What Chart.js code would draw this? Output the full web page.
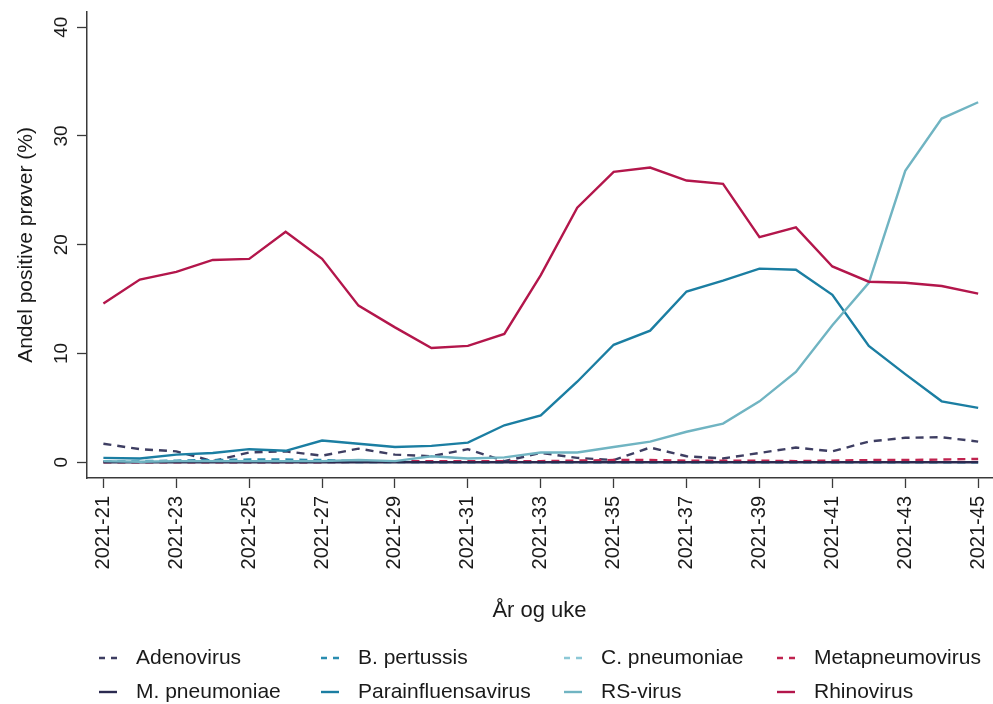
<!DOCTYPE html>
<html>
<head>
<meta charset="utf-8">
<script src="https://cdn.jsdelivr.net/npm/chart.js@4"></script>
<style>
  html, body { margin: 0; padding: 0; background: #ffffff; }
  #wrap { width: 993px; height: 704px; }
</style>
</head>
<body>
<div id="wrap"><canvas id="c" width="993" height="704"></canvas></div>
<script>
// Uke (2021) og andel positive prøver per agens
const weeks = [21, 22, 23, 24, 25, 26, 27, 28, 29, 30, 31, 32, 33, 34, 35, 36, 37, 38, 39, 40, 41, 42, 43, 44, 45];
const weekTicks = [21, 23, 25, 27, 29, 31, 33, 35, 37, 39, 41, 43, 45];
const yTicks = [0, 10, 20, 30, 40];

const adenovirus      = [1.7, 1.2, 1.0, 0.1, 0.9, 1.0, 0.6, 1.25, 0.7, 0.55, 1.2, 0.1, 0.85, 0.4, 0.2, 1.35, 0.55, 0.35, 0.85, 1.35, 1.0, 1.9, 2.25, 2.3, 1.9];
const bPertussis      = [0.1, 0.1, 0.15, 0.2, 0.25, 0.25, 0.2, 0.1, 0.05, 0, 0, 0, 0, 0, 0, 0, 0, 0, 0, 0, 0, 0, 0, 0, 0];
const cPneumoniae     = [0.05, 0.05, 0.1, 0.05, 0, 0, 0, 0, 0, 0, 0, 0, 0, 0, 0, 0, 0, 0, 0, 0, 0, 0, 0, 0, 0];
const metapneumovirus = [0, 0, 0, 0, 0, 0, 0, 0.05, 0.1, 0.1, 0.1, 0.1, 0.1, 0.15, 0.2, 0.2, 0.15, 0.15, 0.15, 0.1, 0.15, 0.2, 0.2, 0.25, 0.3];
const mPneumoniae     = [0, 0, 0, 0, 0, 0, 0, 0, 0, 0, 0, 0, 0, 0, 0, 0, 0, 0, 0, 0, 0, 0, 0, 0, 0];
const parainfluensa   = [0.4, 0.35, 0.7, 0.85, 1.2, 1.05, 2.0, 1.7, 1.4, 1.5, 1.8, 3.4, 4.3, 7.4, 10.8, 12.1, 15.7, 16.7, 17.8, 17.7, 15.4, 10.7, 8.1, 5.6, 5.0];
const rsVirus         = [0.1, 0.05, 0.1, 0.1, 0.1, 0.1, 0.1, 0.2, 0.1, 0.55, 0.35, 0.45, 0.9, 0.9, 1.4, 1.9, 2.8, 3.55, 5.6, 8.3, 12.6, 16.5, 26.8, 31.6, 33.1];
const rhinovirus      = [14.6, 16.8, 17.5, 18.6, 18.7, 21.2, 18.7, 14.4, 12.4, 10.5, 10.7, 11.8, 17.2, 23.4, 26.7, 27.1, 25.9, 25.6, 20.7, 21.6, 18.0, 16.6, 16.5, 16.2, 15.5];

const FONT = '"Liberation Sans", Arial, sans-serif';
const TEXT = '#1a1a1a';
const AXIS = '#3a3a3a';

const series = [
  { label: 'Adenovirus',         values: adenovirus,      color: '#3e3e62', dashed: true },
  { label: 'B. pertussis',       values: bPertussis,      color: '#2a8db0', dashed: true },
  { label: 'C. pneumoniae',      values: cPneumoniae,     color: '#8cc8d6', dashed: true },
  { label: 'Metapneumovirus',    values: metapneumovirus, color: '#c0234f', dashed: true },
  { label: 'M. pneumoniae',      values: mPneumoniae,     color: '#2b2a50', dashed: false },
  { label: 'Parainfluensavirus', values: parainfluensa,   color: '#1b7ea2', dashed: false },
  { label: 'RS-virus',           values: rsVirus,         color: '#70b4c2', dashed: false },
  { label: 'Rhinovirus',         values: rhinovirus,      color: '#b3164b', dashed: false }
];

const datasets = series.map((s, i) => ({
  label: s.label,
  data: weeks.map((w, k) => ({ x: w, y: s.values[k] })),
  borderColor: s.color,
  backgroundColor: s.color,
  borderWidth: 2.4,
  borderDash: s.dashed ? [8, 6] : [],
  pointRadius: 0,
  tension: 0,
  fill: false,
  order: series.length - 1 - i
}));

// Legend in a fixed 4 x 2 grid below the axis title
const gridLegend = {
  id: 'gridLegend',
  afterDraw(chart) {
    const ctx = chart.ctx;
    const colX = [99, 321, 564, 777];
    const rowY = [658, 692];
    ctx.save();
    ctx.font = '21px ' + FONT;
    ctx.textBaseline = 'middle';
    ctx.textAlign = 'left';
    chart.data.datasets.forEach((ds, i) => {
      const x = colX[i % 4];
      const y = rowY[Math.floor(i / 4)];
      ctx.strokeStyle = ds.borderColor;
      ctx.lineWidth = 2.4;
      ctx.setLineDash(ds.borderDash.length ? [6, 6] : []);
      ctx.beginPath();
      ctx.moveTo(x, y);
      ctx.lineTo(x + 18, y);
      ctx.stroke();
      ctx.setLineDash([]);
      ctx.fillStyle = TEXT;
      ctx.fillText(ds.label, x + 37, y);
    });
    ctx.restore();
  }
};

new Chart(document.getElementById('c'), {
  type: 'line',
  data: { datasets },
  plugins: [gridLegend],
  options: {
    responsive: false,
    animation: false,
    layout: { padding: { top: 12, right: 1, left: 0, bottom: 0 } },
    plugins: { legend: { display: false }, tooltip: { enabled: false } },
    scales: {
      x: {
        type: 'linear',
        min: 20.55,
        max: 45.38,
        afterBuildTicks: s => { s.ticks = weekTicks.map(v => ({ value: v })); },
        afterFit: s => { s.height = 226; s.paddingLeft = 0; s.paddingRight = 0; },
        grid: { display: true, drawOnChartArea: false, drawTicks: true, tickLength: 10, tickColor: AXIS, tickWidth: 1.3 },
        border: { display: true, color: AXIS, width: 1.5 },
        ticks: {
          autoSkip: false,
          minRotation: 90,
          maxRotation: 90,
          padding: 8,
          color: TEXT,
          font: { family: FONT, size: 20 },
          callback: v => '2021-' + v
        },
        title: {
          display: true,
          text: 'År og uke',
          color: TEXT,
          font: { family: FONT, size: 22 },
          padding: { top: 0, bottom: 80 }
        }
      },
      y: {
        type: 'linear',
        min: -1.45,
        max: 41.4,
        afterBuildTicks: s => { s.ticks = yTicks.map(v => ({ value: v })); },
        afterFit: s => { s.width = 87; s.paddingTop = 0; s.paddingBottom = 0; },
        grid: { display: true, drawOnChartArea: false, drawTicks: true, tickLength: 10, tickColor: AXIS, tickWidth: 1.3 },
        border: { display: true, color: AXIS, width: 1.5 },
        ticks: {
          minRotation: 90,
          maxRotation: 90,
          crossAlign: 'center',
          padding: 5,
          color: TEXT,
          font: { family: FONT, size: 19 }
        },
        title: {
          display: true,
          text: 'Andel positive prøver (%)',
          color: TEXT,
          font: { family: FONT, size: 21 },
          padding: { top: 14, bottom: 0 }
        }
      }
    }
  }
});
</script>
</body>
</html>
